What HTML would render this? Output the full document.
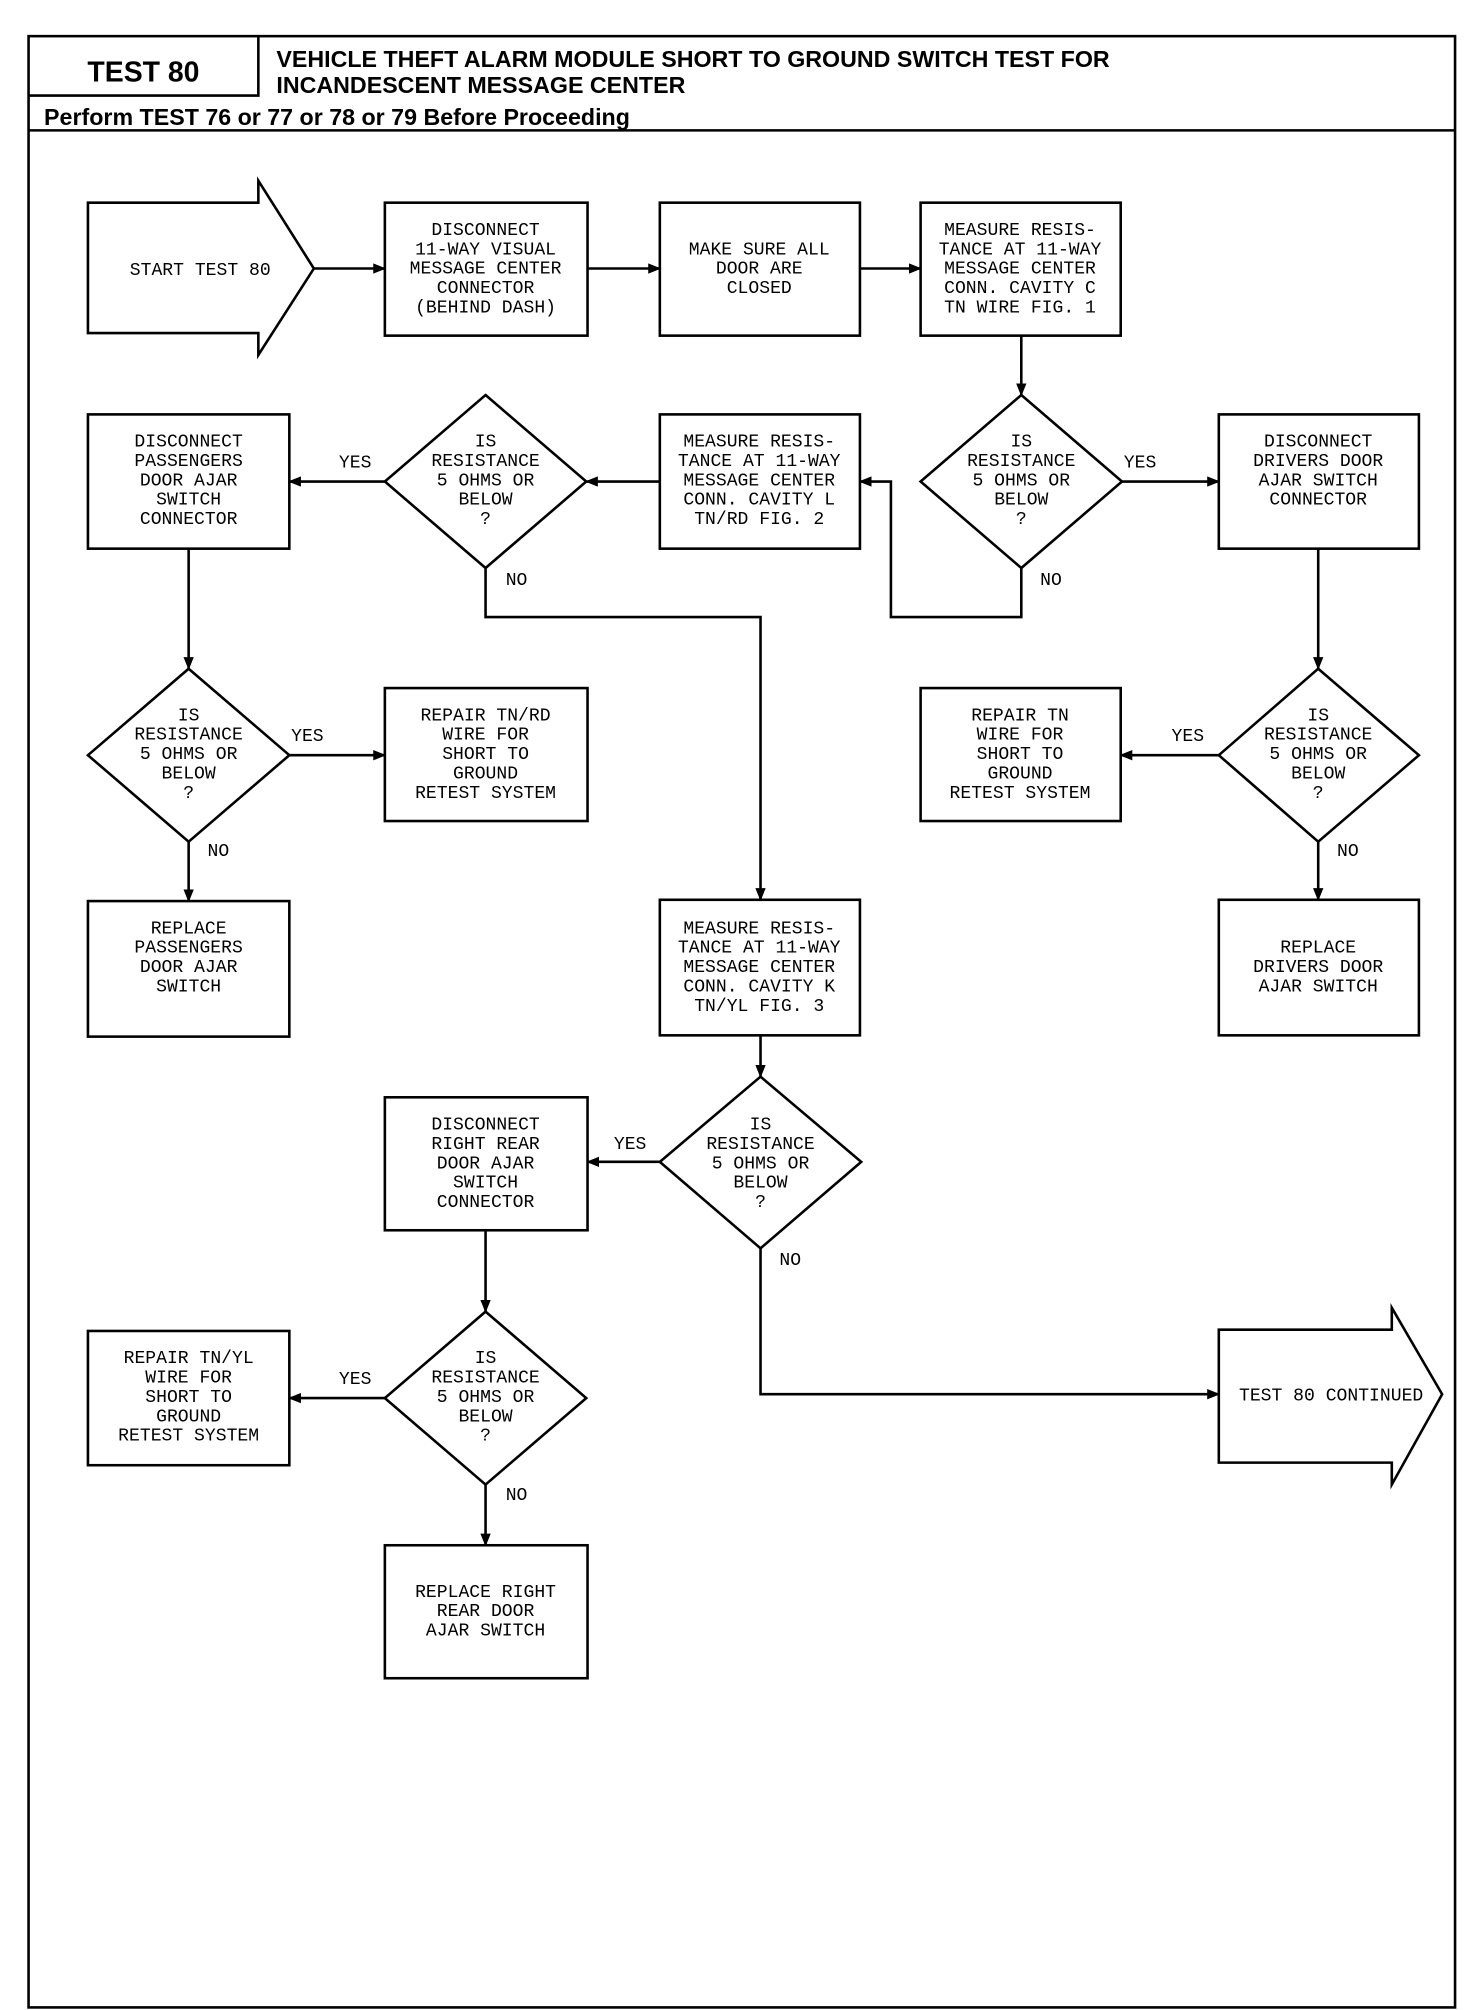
<!DOCTYPE html>
<html><head><meta charset="utf-8"><style>
html,body{margin:0;padding:0;background:#fff;}
svg{display:block;}
.t{font-family:"Liberation Mono",monospace;font-size:14px;fill:#000;text-anchor:middle;}
.h{font-family:"Liberation Sans",sans-serif;font-weight:bold;fill:#000;}
</style></head><body>
<svg width="1472" height="2010" viewBox="0 0 1140 1557" xmlns="http://www.w3.org/2000/svg">
<defs><marker id="a" markerWidth="10" markerHeight="8" refX="9" refY="4" orient="auto" markerUnits="userSpaceOnUse"><path d="M0,0 L10,4 L0,8 z" fill="#000"/></marker></defs>
<g fill="none" stroke="#000" stroke-width="2">
<rect x="22" y="28" width="1105" height="1527"/>
<line x1="22" y1="101" x2="1127" y2="101"/>
<polyline points="22,74 200,74 200,28"/>
<line x1="200" y1="74" x2="1127" y2="74" stroke-width="0"/>
</g>
<text class="h" x="111" y="63" font-size="22" text-anchor="middle">TEST 80</text>
<text class="h" x="214" y="52" font-size="18">VEHICLE THEFT ALARM MODULE SHORT TO GROUND SWITCH TEST FOR</text>
<text class="h" x="214" y="72" font-size="18">INCANDESCENT MESSAGE CENTER</text>
<text class="h" x="34" y="97" font-size="18">Perform TEST 76 or 77 or 78 or 79 Before Proceeding</text>

<g fill="none" stroke="#000" stroke-width="2">
<polygon points="68,157 200,157 200,140 243,208 200,275 200,258 68,258"/>
<polygon points="944,1030 1078,1030 1078,1013 1117,1080 1078,1150 1078,1133 944,1133"/>
<rect x="298" y="157" width="157" height="103"/>
<rect x="511" y="157" width="155" height="103"/>
<rect x="713" y="157" width="155" height="103"/>
<polygon points="791,306 869,373 791,440 713,373"/>
<rect x="944" y="321" width="155" height="104"/>
<rect x="511" y="321" width="155" height="104"/>
<polygon points="376,306 454,373 376,440 298,373"/>
<rect x="68" y="321" width="156" height="104"/>
<polygon points="146,518 224,585 146,652 68,585"/>
<rect x="298" y="533" width="157" height="103"/>
<rect x="68" y="698" width="156" height="105"/>
<polygon points="1021,518 1099,585 1021,652 944,585"/>
<rect x="713" y="533" width="155" height="103"/>
<rect x="944" y="697" width="155" height="105"/>
<rect x="511" y="697" width="155" height="105"/>
<polygon points="589,834 667,900 589,967 511,900"/>
<rect x="298" y="850" width="157" height="103"/>
<polygon points="376,1016 454,1083 376,1150 298,1083"/>
<rect x="68" y="1031" width="156" height="104"/>
<rect x="298" y="1197" width="157" height="103"/>

<g marker-end="url(#a)">
<line x1="243" y1="208" x2="298" y2="208"/>
<line x1="455" y1="208" x2="511" y2="208"/>
<line x1="666" y1="208" x2="713" y2="208"/>
<line x1="791" y1="260" x2="791" y2="306"/>
<line x1="869" y1="373" x2="944" y2="373"/>
<polyline points="791,440 791,478 690,478 690,373 666,373"/>
<line x1="511" y1="373" x2="454" y2="373"/>
<line x1="298" y1="373" x2="224" y2="373"/>
<polyline points="376,440 376,478 589,478 589,697"/>
<line x1="146" y1="425" x2="146" y2="518"/>
<line x1="224" y1="585" x2="298" y2="585"/>
<line x1="146" y1="652" x2="146" y2="698"/>
<line x1="1021" y1="425" x2="1021" y2="518"/>
<line x1="944" y1="585" x2="868" y2="585"/>
<line x1="1021" y1="652" x2="1021" y2="697"/>
<line x1="589" y1="802" x2="589" y2="834"/>
<line x1="511" y1="900" x2="455" y2="900"/>
<polyline points="589,967 589,1080 944,1080"/>
<line x1="376" y1="953" x2="376" y2="1016"/>
<line x1="298" y1="1083" x2="224" y2="1083"/>
<line x1="376" y1="1150" x2="376" y2="1197"/>
</g>
</g>

<g class="t">
<text x="155" y="213">START TEST 80</text>
<text x="1031" y="1085">TEST 80 CONTINUED</text>
<text x="376" y="182">DISCONNECT</text><text x="376" y="197">11-WAY VISUAL</text><text x="376" y="212">MESSAGE CENTER</text><text x="376" y="227">CONNECTOR</text><text x="376" y="242">(BEHIND DASH)</text>
<text x="588" y="197">MAKE SURE ALL</text><text x="588" y="212">DOOR ARE</text><text x="588" y="227">CLOSED</text>
<text x="790" y="182">MEASURE RESIS-</text><text x="790" y="197">TANCE AT 11-WAY</text><text x="790" y="212">MESSAGE CENTER</text><text x="790" y="227">CONN. CAVITY C</text><text x="790" y="242">TN WIRE FIG. 1</text>
<text x="791" y="346">IS</text><text x="791" y="361">RESISTANCE</text><text x="791" y="376">5 OHMS OR</text><text x="791" y="391">BELOW</text><text x="791" y="406">?</text>
<text x="1021" y="346">DISCONNECT</text><text x="1021" y="361">DRIVERS DOOR</text><text x="1021" y="376">AJAR SWITCH</text><text x="1021" y="391">CONNECTOR</text>
<text x="588" y="346">MEASURE RESIS-</text><text x="588" y="361">TANCE AT 11-WAY</text><text x="588" y="376">MESSAGE CENTER</text><text x="588" y="391">CONN. CAVITY L</text><text x="588" y="406">TN/RD FIG. 2</text>
<text x="376" y="346">IS</text><text x="376" y="361">RESISTANCE</text><text x="376" y="376">5 OHMS OR</text><text x="376" y="391">BELOW</text><text x="376" y="406">?</text>
<text x="146" y="346">DISCONNECT</text><text x="146" y="361">PASSENGERS</text><text x="146" y="376">DOOR AJAR</text><text x="146" y="391">SWITCH</text><text x="146" y="406">CONNECTOR</text>
<text x="146" y="558">IS</text><text x="146" y="573">RESISTANCE</text><text x="146" y="588">5 OHMS OR</text><text x="146" y="603">BELOW</text><text x="146" y="618">?</text>
<text x="376" y="558">REPAIR TN/RD</text><text x="376" y="573">WIRE FOR</text><text x="376" y="588">SHORT TO</text><text x="376" y="603">GROUND</text><text x="376" y="618">RETEST SYSTEM</text>
<text x="1021" y="558">IS</text><text x="1021" y="573">RESISTANCE</text><text x="1021" y="588">5 OHMS OR</text><text x="1021" y="603">BELOW</text><text x="1021" y="618">?</text>
<text x="790" y="558">REPAIR TN</text><text x="790" y="573">WIRE FOR</text><text x="790" y="588">SHORT TO</text><text x="790" y="603">GROUND</text><text x="790" y="618">RETEST SYSTEM</text>
<text x="146" y="723">REPLACE</text><text x="146" y="738">PASSENGERS</text><text x="146" y="753">DOOR AJAR</text><text x="146" y="768">SWITCH</text>
<text x="1021" y="738">REPLACE</text><text x="1021" y="753">DRIVERS DOOR</text><text x="1021" y="768">AJAR SWITCH</text>
<text x="588" y="723">MEASURE RESIS-</text><text x="588" y="738">TANCE AT 11-WAY</text><text x="588" y="753">MESSAGE CENTER</text><text x="588" y="768">CONN. CAVITY K</text><text x="588" y="783">TN/YL FIG. 3</text>
<text x="589" y="875">IS</text><text x="589" y="890">RESISTANCE</text><text x="589" y="905">5 OHMS OR</text><text x="589" y="920">BELOW</text><text x="589" y="935">?</text>
<text x="376" y="875">DISCONNECT</text><text x="376" y="890">RIGHT REAR</text><text x="376" y="905">DOOR AJAR</text><text x="376" y="920">SWITCH</text><text x="376" y="935">CONNECTOR</text>
<text x="376" y="1056">IS</text><text x="376" y="1071">RESISTANCE</text><text x="376" y="1086">5 OHMS OR</text><text x="376" y="1101">BELOW</text><text x="376" y="1116">?</text>
<text x="146" y="1056">REPAIR TN/YL</text><text x="146" y="1071">WIRE FOR</text><text x="146" y="1086">SHORT TO</text><text x="146" y="1101">GROUND</text><text x="146" y="1116">RETEST SYSTEM</text>
<text x="376" y="1237">REPLACE RIGHT</text><text x="376" y="1252">REAR DOOR</text><text x="376" y="1267">AJAR SWITCH</text>
<text x="883" y="362">YES</text><text x="814" y="453">NO</text>
<text x="275" y="362">YES</text><text x="400" y="453">NO</text>
<text x="238" y="574">YES</text><text x="169" y="663">NO</text>
<text x="920" y="574">YES</text><text x="1044" y="663">NO</text>
<text x="488" y="890">YES</text><text x="612" y="980">NO</text>
<text x="275" y="1072">YES</text><text x="400" y="1162">NO</text>
</g>
</svg>
</body></html>
